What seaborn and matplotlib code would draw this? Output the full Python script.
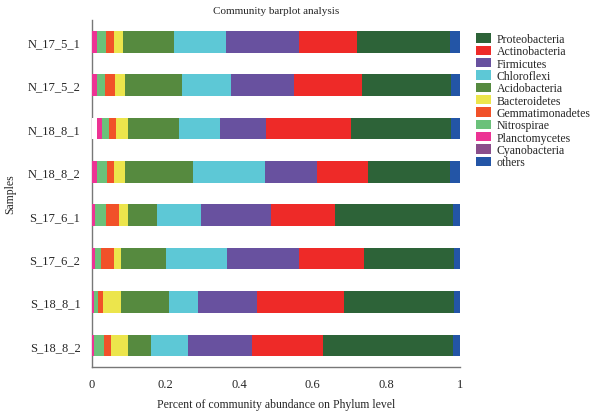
import matplotlib
matplotlib.use("Agg")
import matplotlib.pyplot as plt
import matplotlib.patches as mpatches
import seaborn as sns
import pandas as pd
import numpy as np

# ----------------------------
# DATA
# ----------------------------
samples = ["N_17_5_1", "N_17_5_2", "N_18_8_1", "N_18_8_2",
           "S_17_6_1", "S_17_6_2", "S_18_8_1", "S_18_8_2"]

# legend order (top to bottom)
phyla = ["Proteobacteria", "Actinobacteria", "Firmicutes", "Chloroflexi",
         "Acidobacteria", "Bacteroidetes", "Gemmatimonadetes", "Nitrospirae",
         "Planctomycetes", "Cyanobacteria", "others"]

colors = ["#2d6338", "#ee2a28", "#68519f", "#5dc8d6", "#568a3f", "#ece54c",
          "#f15129", "#6bc17a", "#ec3394", "#8a4e8b", "#2355a6"]

# empty space at the left end of some bars
blank = [0.0, 0.0, 0.016, 0.0, 0.0, 0.0, 0.0, 0.0]

Cyanobacteria = [0.0, 0.0, 0.0, 0.0, 0.0, 0.0, 0.0, 0.0]
Planctomycetes = [0.016, 0.015, 0.012, 0.016, 0.010, 0.010, 0.008, 0.008]
Nitrospirae = [0.023, 0.022, 0.019, 0.025, 0.029, 0.015, 0.010, 0.026]
Gemmatimonadetes = [0.022, 0.027, 0.019, 0.019, 0.035, 0.035, 0.014, 0.019]
Bacteroidetes = [0.024, 0.027, 0.033, 0.030, 0.024, 0.019, 0.049, 0.046]
Acidobacteria = [0.139, 0.155, 0.139, 0.185, 0.079, 0.122, 0.128, 0.062]
Chloroflexi = [0.141, 0.133, 0.111, 0.196, 0.120, 0.168, 0.081, 0.101]
Firmicutes = [0.198, 0.170, 0.124, 0.141, 0.190, 0.193, 0.160, 0.173]
Actinobacteria = [0.157, 0.186, 0.232, 0.139, 0.174, 0.177, 0.236, 0.194]
Proteobacteria = [0.253, 0.242, 0.272, 0.223, 0.320, 0.244, 0.299, 0.353]
others = [0.027, 0.024, 0.024, 0.027, 0.019, 0.016, 0.016, 0.019]

# stacking order, left to right
stack = [("blank", blank), ("Cyanobacteria", Cyanobacteria),
         ("Planctomycetes", Planctomycetes), ("Nitrospirae", Nitrospirae),
         ("Gemmatimonadetes", Gemmatimonadetes), ("Bacteroidetes", Bacteroidetes),
         ("Acidobacteria", Acidobacteria), ("Chloroflexi", Chloroflexi),
         ("Firmicutes", Firmicutes), ("Actinobacteria", Actinobacteria),
         ("Proteobacteria", Proteobacteria), ("others", others)]

color_of = dict(zip(phyla, colors))
color_of["blank"] = "white"

# ----------------------------
# PLOT
# ----------------------------
sns.set_style("white")
plt.rcParams["font.family"] = ["Liberation Serif", "DejaVu Serif"]

fig = plt.figure(figsize=(6.06, 4.14), dpi=100)
ax = fig.add_axes([0.151, 0.111, 0.608, 0.838])

df = pd.DataFrame({name: vals for name, vals in stack}, index=samples)
cum = df.cumsum(axis=1)

# draw cumulative totals from the longest to the shortest so they overlay
for name, _ in reversed(stack):
    d = pd.DataFrame({"Sample": samples, "value": cum[name].values})
    sns.barplot(data=d, x="value", y="Sample", color=color_of[name],
                orient="h", width=0.5, saturation=1, linewidth=0, ax=ax)

ax.set_xlim(0, 1)
ax.set_ylim(7.5, -0.5)
ax.set_xticks([0, 0.2, 0.4, 0.6, 0.8, 1])
ax.set_xticklabels(["0", "0.2", "0.4", "0.6", "0.8", "1"])
ax.set_yticks(np.arange(-0.5, 8, 1), minor=True)

for s in ["top", "right"]:
    ax.spines[s].set_visible(False)
for s in ["left", "bottom"]:
    ax.spines[s].set_color("#777777")
    ax.spines[s].set_linewidth(1.0)
ax.spines["left"].set_zorder(0.5)

ax.tick_params(axis="x", direction="in", length=4, color="#777777",
               labelsize=9, pad=8)
ax.tick_params(axis="y", which="major", length=0, labelsize=9, pad=8)
ax.tick_params(axis="y", which="minor", direction="in", length=4,
               color="#777777")

ax.set_title("Community barplot analysis", fontsize=8, pad=5)
ax.set_xlabel("Percent of community abundance on Phylum level", fontsize=8.5,
              labelpad=6)
ax.set_ylabel("Samples", fontsize=8.5, labelpad=8)

handles = [mpatches.Patch(facecolor=c, edgecolor="none", label=p)
           for p, c in zip(phyla, colors)]
fig.legend(handles=handles, loc="upper left", bbox_to_anchor=(0.785, 0.918),
           frameon=False, fontsize=8.5, handlelength=1.3, handleheight=0.85,
           handletextpad=0.5, labelspacing=0.03, borderpad=0, borderaxespad=0)

plt.savefig("out.png", dpi=100)
plt.close()
